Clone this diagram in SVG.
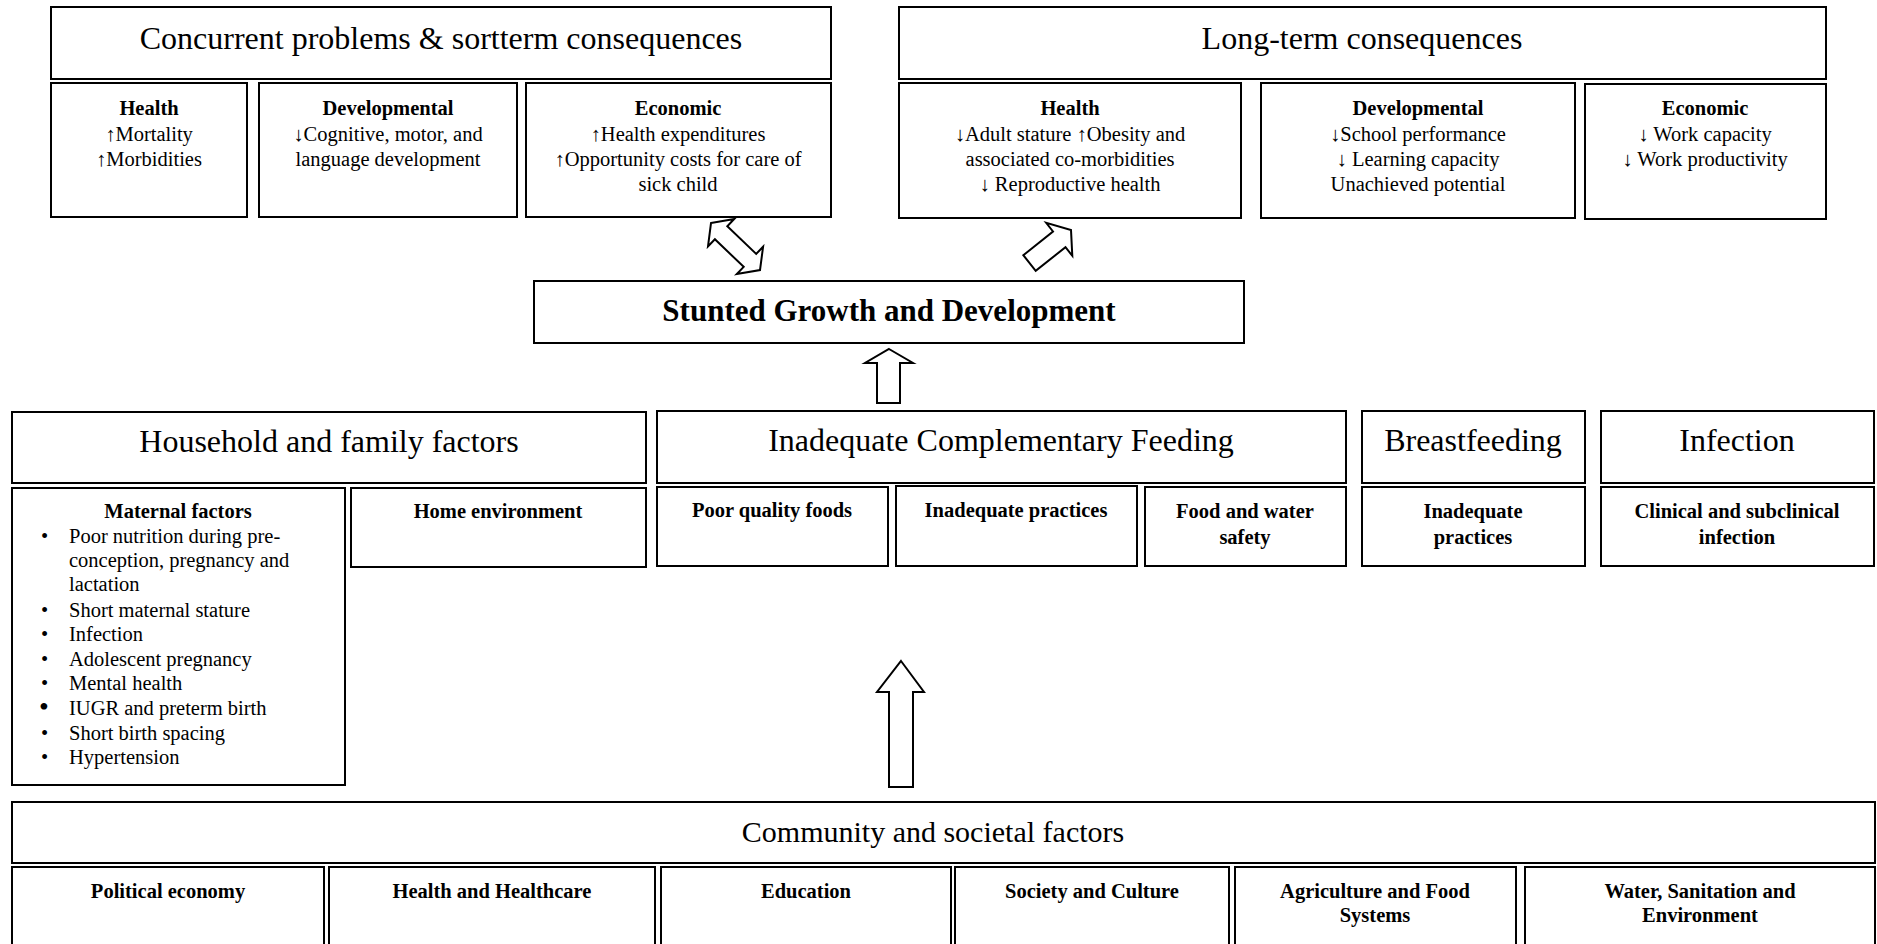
<svg xmlns="http://www.w3.org/2000/svg" width="1877" height="944" viewBox="0 0 1877 944">
<style>
rect{fill:#fff;stroke:#000;stroke-width:2}
.arr{fill:#fff;stroke:#000;stroke-width:2;stroke-linejoin:miter}
text{font-family:"Liberation Serif","Times New Roman",serif;fill:#000}
.t{font-size:32px;text-anchor:middle}
.h{font-size:20.5px;font-weight:bold;text-anchor:middle}
.b{font-size:20.5px;text-anchor:middle}
.l{font-size:20.5px}
.big{font-size:31px;font-weight:bold;text-anchor:middle}
.c{font-size:30px;text-anchor:middle}
</style>
<rect x="0" y="0" width="1877" height="944" style="fill:#fff;stroke:none"/>

<g id="concurrent">
<rect x="51" y="7" width="780" height="72"/>
<text class="t" x="441" y="49">Concurrent problems &amp; sortterm consequences</text>
</g>
<g id="concurrent-health">
<rect x="51" y="83" width="196" height="134"/>
<text class="h" x="149" y="115">Health</text>
<text class="b" x="149" y="141">↑Mortality</text>
<text class="b" x="149" y="166">↑Morbidities</text>
</g>
<g id="concurrent-dev">
<rect x="259" y="83" width="258" height="134"/>
<text class="h" x="388" y="115">Developmental</text>
<text class="b" x="388" y="141">↓Cognitive, motor, and</text>
<text class="b" x="388" y="166">language development</text>
</g>
<g id="concurrent-econ">
<rect x="526" y="83" width="305" height="134"/>
<text class="h" x="678" y="115">Economic</text>
<text class="b" x="678" y="141">↑Health expenditures</text>
<text class="b" x="678" y="166">↑Opportunity costs for care of</text>
<text class="b" x="678" y="191">sick child</text>
</g>

<g id="longterm">
<rect x="899" y="7" width="927" height="72"/>
<text class="t" x="1362" y="49">Long-term consequences</text>
</g>
<g id="long-health">
<rect x="899" y="83" width="342" height="135"/>
<text class="h" x="1070" y="115">Health</text>
<text class="b" x="1070" y="141">↓Adult stature ↑Obesity and</text>
<text class="b" x="1070" y="166">associated co-morbidities</text>
<text class="b" x="1070" y="191">↓ Reproductive health</text>
</g>
<g id="long-dev">
<rect x="1261" y="83" width="314" height="135"/>
<text class="h" x="1418" y="115">Developmental</text>
<text class="b" x="1418" y="141">↓School performance</text>
<text class="b" x="1418" y="166">↓ Learning capacity</text>
<text class="b" x="1418" y="191">Unachieved potential</text>
</g>
<g id="long-econ">
<rect x="1585" y="84" width="241" height="135"/>
<text class="h" x="1705" y="115">Economic</text>
<text class="b" x="1705" y="141">↓ Work capacity</text>
<text class="b" x="1705" y="166">↓ Work productivity</text>
</g>

<g id="stunted">
<rect x="534" y="281" width="710" height="62"/>
<text class="big" x="889" y="321">Stunted Growth and Development</text>
</g>

<g id="household">
<rect x="12" y="412" width="634" height="71"/>
<text class="t" x="329" y="452">Household and family factors</text>
</g>
<g id="maternal">
<rect x="12" y="488" width="333" height="297"/>
<text class="h" x="178" y="518">Maternal factors</text>
<text class="l" x="41" y="543">•</text><text class="l" x="69" y="543">Poor nutrition during pre-</text>
<text class="l" x="69" y="567">conception, pregnancy and</text>
<text class="l" x="69" y="591">lactation</text>
<text class="l" x="41" y="617">•</text><text class="l" x="69" y="617">Short maternal stature</text>
<text class="l" x="41" y="641">•</text><text class="l" x="69" y="641">Infection</text>
<text class="l" x="41" y="666">•</text><text class="l" x="69" y="666">Adolescent pregnancy</text>
<text class="l" x="41" y="690">•</text><text class="l" x="69" y="690">Mental health</text>
<text class="l" x="39" y="716" style="font-size:28px">•</text><text class="l" x="69" y="715">IUGR and preterm birth</text>
<text class="l" x="41" y="740">•</text><text class="l" x="69" y="740">Short birth spacing</text>
<text class="l" x="41" y="764">•</text><text class="l" x="69" y="764">Hypertension</text>
</g>
<g id="home">
<rect x="351" y="488" width="295" height="79"/>
<text class="h" x="498" y="518">Home environment</text>
</g>

<g id="icf">
<rect x="657" y="411" width="689" height="72"/>
<text class="t" x="1001" y="451">Inadequate Complementary Feeding</text>
</g>
<g id="poor-quality">
<rect x="657" y="487" width="231" height="79"/>
<text class="h" x="772" y="517">Poor quality foods</text>
</g>
<g id="icf-practices">
<rect x="896" y="486" width="241" height="80"/>
<text class="h" x="1016" y="517">Inadequate practices</text>
</g>
<g id="food-water">
<rect x="1145" y="487" width="201" height="79"/>
<text class="h" x="1245" y="518">Food and water</text>
<text class="h" x="1245" y="544">safety</text>
</g>

<g id="breastfeeding">
<rect x="1362" y="411" width="223" height="72"/>
<text class="t" x="1473" y="451">Breastfeeding</text>
</g>
<g id="bf-practices">
<rect x="1362" y="487" width="223" height="79"/>
<text class="h" x="1473" y="518">Inadequate</text>
<text class="h" x="1473" y="544">practices</text>
</g>

<g id="infection">
<rect x="1601" y="411" width="273" height="72"/>
<text class="t" x="1737" y="451">Infection</text>
</g>
<g id="clinical">
<rect x="1601" y="487" width="273" height="79"/>
<text class="h" x="1737" y="518">Clinical and subclinical</text>
<text class="h" x="1737" y="544">infection</text>
</g>

<g id="community">
<rect x="12" y="802" width="1863" height="61"/>
<text class="c" x="933" y="842">Community and societal factors</text>
</g>
<g id="political">
<rect x="12" y="867" width="312" height="100"/>
<text class="h" x="168" y="898">Political economy</text>
</g>
<g id="healthcare">
<rect x="329" y="867" width="326" height="100"/>
<text class="h" x="492" y="898">Health and Healthcare</text>
</g>
<g id="education">
<rect x="661" y="867" width="290" height="100"/>
<text class="h" x="806" y="898">Education</text>
</g>
<g id="society">
<rect x="955" y="867" width="274" height="100"/>
<text class="h" x="1092" y="898">Society and Culture</text>
</g>
<g id="agriculture">
<rect x="1235" y="867" width="281" height="100"/>
<text class="h" x="1375" y="898">Agriculture and Food</text>
<text class="h" x="1375" y="922">Systems</text>
</g>
<g id="water">
<rect x="1525" y="867" width="350" height="100"/>
<text class="h" x="1700" y="898">Water, Sanitation and</text>
<text class="h" x="1700" y="922">Environment</text>
</g>

<g id="connectors">
<polygon class="arr" points="711,223 734.2,219 727.3,226.2 756.2,253.9 763.1,246.7 760,270.1 736.8,274.1 743.7,266.9 714.9,239.2 708,246.4"/>
<polygon class="arr" points="1023.3,255.2 1053,231.5 1046.2,222.9 1071,230 1072.3,255.8 1065.5,247.2 1035.7,270.8"/>
<polygon class="arr" points="889,349 913,363 900,363 900,403 877,403 877,363 865,363"/>
<polygon class="arr" points="901,661 924,692 913,692 913,787 889,787 889,692 877,692"/>
</g>
</svg>
